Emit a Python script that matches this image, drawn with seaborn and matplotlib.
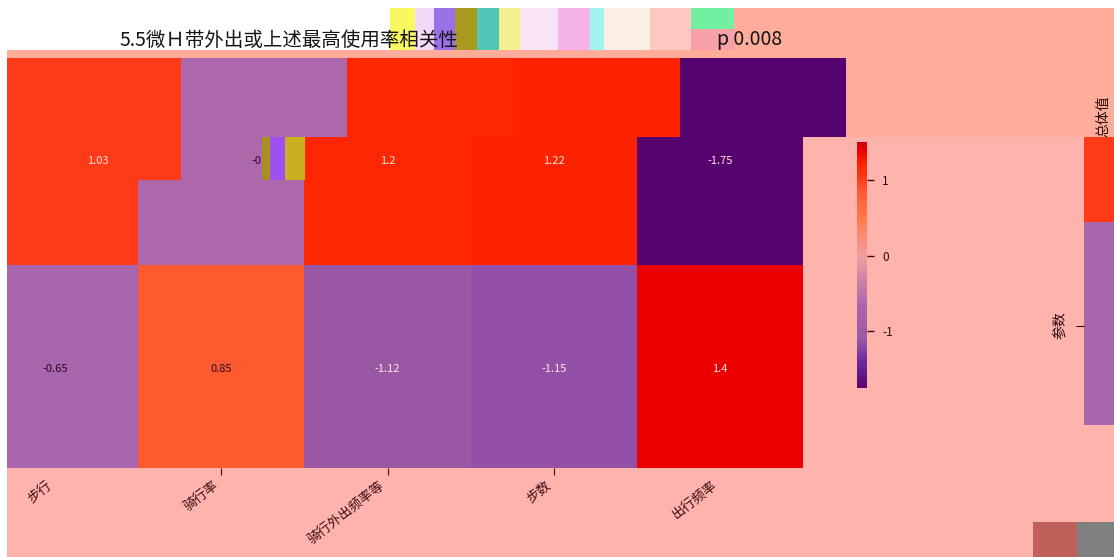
import numpy as np
import matplotlib
matplotlib.use("Agg")
import matplotlib.pyplot as plt
from matplotlib.colors import LinearSegmentedColormap
from matplotlib.patches import Rectangle
from matplotlib.transforms import ScaledTranslation
import seaborn as sns

plt.rcParams['font.family'] = ['Noto Sans CJK SC', 'DejaVu Sans']
plt.rcParams['axes.unicode_minus'] = False

columns = ["步行", "骑行率", "骑行外出频率等", "步数", "出行频率"]
row_names = ["总体值", "参数"]
row1_values = [1.03, -0.62, 1.2, 1.22, -1.75]
row2_values = [-0.65, 0.85, -1.12, -1.15, 1.4]
row1_labels = ["1.03", "-0.62", "1.2", "1.22", "-1.75"]
row2_labels = ["-0.65", "0.85", "-1.12", "-1.15", "1.4"]
cbar_ticks = [1, 0, -1]
title_left = "5.5微Ｈ带外出或上述最高使用率相关性"
title_right = "p 0.008"

W, H = 1114, 557
vmin, vmax = -1.75, 1.51
anchors = [(-1.75, "#560470"), (-1.4, "#6C2AA0"), (-1.15, "#9450A6"), (-1.12, "#9A58A4"),
           (-0.65, "#AA66AC"), (0.0, "#F0A0A0"), (0.5, "#FF7A4C"), (0.85, "#FF5A30"),
           (1.03, "#FF3C18"), (1.22, "#FF2400"), (1.4, "#EE0000"), (1.51, "#CC0010")]
cmap = LinearSegmentedColormap.from_list(
    "pr", [((v - vmin) / (vmax - vmin), c) for v, c in anchors])

data = np.array([row1_values, row2_values])
labels = np.array([row1_labels, row2_labels])

fig = plt.figure(figsize=(W / 100, H / 100), dpi=100, facecolor="white")


def frame(x0, y0, x1, y1):
    return [x0 / W, 1 - y1 / H, (x1 - x0) / W, (y1 - y0) / H]


def block(x0, y0, x1, y1, color, z):
    fig.add_artist(Rectangle((x0 / W, 1 - y1 / H), (x1 - x0) / W, (y1 - y0) / H,
                             transform=fig.transFigure, facecolor=color,
                             edgecolor="none", zorder=z))


CW, RH = 166.2, 207.0


def panel(x0, y0, x1, y1, left, top, cbar_ax=None, shown=None):
    """Heatmap seen through a window; left/top = pixel origin of the full grid."""
    ax = fig.add_axes(frame(x0, y0, x1, y1))
    annot = np.full(labels.shape, "", dtype=object)
    if shown is not None:
        annot[shown] = labels[shown]
    sns.heatmap(data, ax=ax, cmap=cmap, vmin=vmin, vmax=vmax, annot=annot, fmt="",
                annot_kws={"fontsize": 8, "clip_on": True}, linewidths=0,
                cbar=cbar_ax is not None, cbar_ax=cbar_ax,
                xticklabels=False, yticklabels=False)
    for t, v in zip(ax.texts, data.ravel()):
        t.set_color("#2a0a20" if abs(v) < 1 else "#ffe8e0")
    ax.set_xlim((x0 - left) / CW, (x1 - left) / CW)
    ax.set_ylim((y1 - top) / RH, (y0 - top) / RH)
    ax.tick_params(length=0)
    return ax


# page background
block(7, 58, W, H, "#FFB3AD", -2)
block(390, 8, W, 137, "#FFAD9A", -1)
block(7, 50, 390, 58, "#FFAD9A", -1)

# main heatmap and colour bar
cax = fig.add_axes(frame(857, 142, 867, 388))
main_shown = np.ones(labels.shape, dtype=bool)
main_shown[0, :2] = False
main = panel(-28, 58, 803, 468, -28, 58, cbar_ax=cax, shown=main_shown)
main.set_xticks(np.arange(len(columns)) + 0.5)
main.set_xticklabels(columns, rotation=38, ha="right", rotation_mode="anchor",
                     fontsize=9.5, color="#3a0a10")
main.tick_params(axis="x", length=5, width=0.8, color="#3a0a10", pad=3)
shift = ScaledTranslation(-6 / 72, 0, fig.dpi_scale_trans)
for lab in main.get_xticklabels():
    lab.set_transform(lab.get_transform() + shift)
for i in (0, 4):
    main.xaxis.get_major_ticks()[i].tick1line.set_visible(False)
cax.set_yticks(cbar_ticks)
cax.set_yticklabels([str(t) for t in cbar_ticks], fontsize=8.5, color="#2a0a10")
cax.tick_params(length=5, width=1, color="#3a0a10", pad=6)
for s in cax.spines.values():
    s.set_visible(False)

# displaced strips of the same grid
panel(15, 58, 846, 137, 15, 58)
block(7, 137, 15, 180, "#FFC4B0", 0)
strip_shown = np.zeros(labels.shape, dtype=bool)
strip_shown[0, :2] = True
panel(15, 137, 305, 180, 15, 58, shown=strip_shown)

# wrapped fragment on the right edge
wrap = panel(1084, 137, 1114, 425, 1084, 222 - RH)
wrap.set_yticks([1.5])
wrap.set_yticklabels([row_names[1]], rotation=90, va="center", fontsize=10, color="#2a0a10")
wrap.tick_params(axis="y", length=6, width=0.8, color="#3a0a10", pad=6)
fig.text(1103 / W, 1 - 116 / H, row_names[0], rotation=90, ha="center", va="center",
         fontsize=10, color="#2a0a10")

# margins and displaced fragments
block(0, 58, 7, H, "white", 5)
noise = [(390, 8, 415, 50, "#F8F860"), (415, 8, 434, 50, "#F4D8F8"), (434, 8, 455, 50, "#9A70E8"),
         (455, 8, 477, 50, "#A89A20"), (477, 8, 499, 50, "#50C8B8"), (499, 8, 520, 50, "#F6F090"),
         (520, 8, 558, 50, "#F8E4F4"), (558, 8, 590, 50, "#F4B4E8"), (590, 8, 604, 50, "#A0F4F0"),
         (604, 8, 650, 50, "#FBEFE4"), (650, 8, 691, 50, "#FFC8C0"), (691, 8, 734, 29, "#70F0A0"),
         (691, 29, 734, 50, "#F8A0A8"),
         (262, 137, 270, 180, "#A89020"), (270, 137, 285, 180, "#A050F0"), (285, 137, 305, 180, "#C8B020"),
         (1033, 522, 1077, H, "#C0605A"), (1077, 522, W, H, "#808080")]
for x0, y0, x1, y1, c in noise:
    block(x0, y0, x1, y1, c, 4)

# title
fig.text(120 / W, 1 - 40 / H, title_left, fontsize=14, va="center", ha="left",
         color="#151515", zorder=6)
fig.text(782 / W, 1 - 40 / H, title_right, fontsize=14, va="center", ha="right",
         color="#151515", zorder=6)

fig.savefig("out.png", dpi=100, facecolor="white")
